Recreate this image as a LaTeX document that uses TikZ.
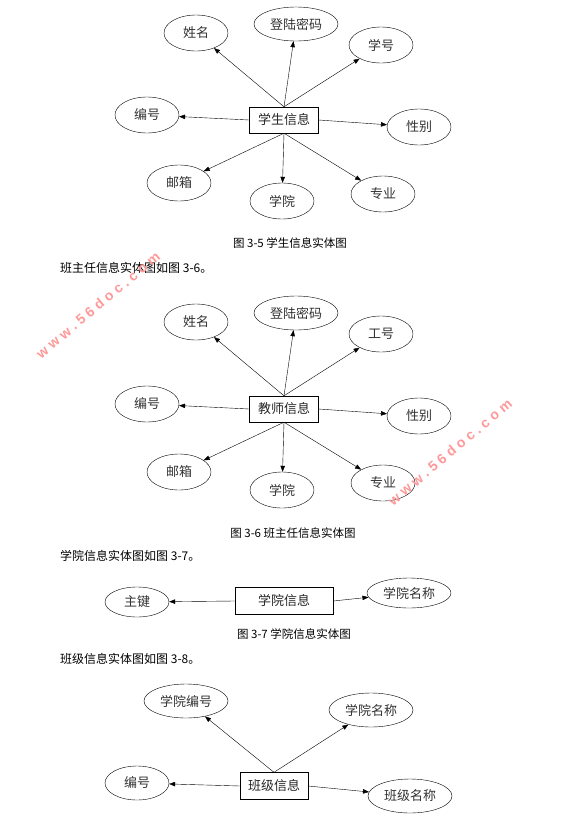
\documentclass[tikz,border=0pt]{standalone}
\usepackage{fontspec}
\setmainfont{Noto Sans CJK SC}
\newfontfamily\marcafont[LetterSpace=28]{Liberation Sans}
\usetikzlibrary{shapes.geometric,arrows.meta}

\begin{document}
\begin{tikzpicture}[x=1pt, y=-1pt,
    atributo/.style={draw, ellipse, thin, inner sep=0pt, minimum width=64pt,
        minimum height=36pt, font=\fontsize{13}{15}\selectfont, text=black!80},
    atrlargo/.style={atributo, minimum width=84pt, minimum height=34pt},
    entidad/.style={draw, thin, rectangle, inner sep=0pt, minimum width=69pt,
        minimum height=26pt, font=\fontsize{13}{15}\selectfont, text=black!85},
    flecha/.style={-{Triangle[length=6pt,width=4.5pt]}, thin},
    pie/.style={font=\fontsize{11.5}{13}\selectfont},
    parrafo/.style={font=\fontsize{12}{14}\selectfont, anchor=west, inner sep=0pt},
    marca/.style={font=\marcafont\bfseries\fontsize{14}{14}\selectfont,
        text=red!40, rotate=40}
]

% ================================================================
%  Lienzo — 583 x 817 (1 pt = 1 pixel, eje y hacia abajo)
% ================================================================
\fill[white] (0,0) rectangle (583,817);
\useasboundingbox (0,0) rectangle (583,817);

% ================================================================
%  Figura 3-5: entidad estudiante
% ================================================================
\node[entidad]  (stu) at (284,120) {学生信息};
\node[atributo] (xm1) at (196, 33) {姓名};
\node[atrlargo] (mm1) at (296, 24) {登陆密码};
\node[atributo] (xh1) at (381, 45) {学号};
\node[atributo] (bh1) at (147,115) {编号};
\node[atributo] (xb1) at (419,127) {性别};
\node[atributo] (yx1) at (179,183) {邮箱};
\node[atributo] (xy1) at (282,201) {学院};
\node[atributo] (zy1) at (383,194) {专业};

\draw[flecha] (stu.north) -- (xm1);
\draw[flecha] (stu.north) -- (mm1);
\draw[flecha] (stu.north) -- (xh1);
\draw[flecha] (stu.west)  -- (bh1);
\draw[flecha] (stu.east)  -- (xb1);
\draw[flecha] (stu.south) -- (yx1);
\draw[flecha] (stu.south) -- (xy1);
\draw[flecha] (stu.south) -- (zy1);

\node[pie]     (pie1) at (290,243) {图 3-5 学生信息实体图};
\node[parrafo] (par2) at ( 60,268) {班主任信息实体图如图 3-6。};

% ================================================================
%  Figura 3-6: entidad profesor (misma disposición, +289)
% ================================================================
\node[entidad]  (pro) at (284,409) {教师信息};
\node[atributo] (xm2) at (196,322) {姓名};
\node[atrlargo] (mm2) at (296,313) {登陆密码};
\node[atributo] (gh2) at (381,334) {工号};
\node[atributo] (bh2) at (147,404) {编号};
\node[atributo] (xb2) at (419,416) {性别};
\node[atributo] (yx2) at (179,472) {邮箱};
\node[atributo] (xy2) at (282,490) {学院};
\node[atributo] (zy2) at (383,483) {专业};

\draw[flecha] (pro.north) -- (xm2);
\draw[flecha] (pro.north) -- (mm2);
\draw[flecha] (pro.north) -- (gh2);
\draw[flecha] (pro.west)  -- (bh2);
\draw[flecha] (pro.east)  -- (xb2);
\draw[flecha] (pro.south) -- (yx2);
\draw[flecha] (pro.south) -- (xy2);
\draw[flecha] (pro.south) -- (zy2);

\node[pie]     (pie2) at (293,533) {图 3-6 班主任信息实体图};
\node[parrafo] (par3) at ( 60,556) {学院信息实体图如图 3-7。};

% ================================================================
%  Figura 3-7: entidad facultad
% ================================================================
\node[entidad, minimum width=98pt, minimum height=27pt] (fac) at (284,601) {学院信息};
\node[atributo, minimum height=30pt] (zj3)  at (137,602) {主键};
\node[atrlargo, minimum height=30pt] (mc3)  at (409,593) {学院名称};

\draw[flecha] (fac.west) -- (zj3);
\draw[flecha] (fac.east) -- (mc3);

\node[pie]     (pie3) at (294,634) {图 3-7 学院信息实体图};
\node[parrafo] (par4) at ( 60,659) {班级信息实体图如图 3-8。};

% ================================================================
%  Figura 3-8: entidad clase
% ================================================================
\node[entidad, minimum width=68pt, minimum height=27pt] (cla) at (274,786) {班级信息};
\node[atrlargo] (ybh4) at (186,701) {学院编号};
\node[atrlargo] (ymc4) at (371,710) {学院名称};
\node[atributo, minimum height=34pt] (bh4) at (137,783) {编号};
\node[atrlargo] (bmc4) at (410,796) {班级名称};

\draw[flecha] (cla.north) -- (ybh4);
\draw[flecha] (cla.north) -- (ymc4);
\draw[flecha] (cla.west)  -- (bh4);
\draw[flecha] (cla.east)  -- (bmc4);

% Marcas de agua
\node[marca] (marca1) at ( 98,305) {www.56doc.com};
\node[marca] (marca2) at (450,452) {www.56doc.com};

\end{tikzpicture}
\end{document}
